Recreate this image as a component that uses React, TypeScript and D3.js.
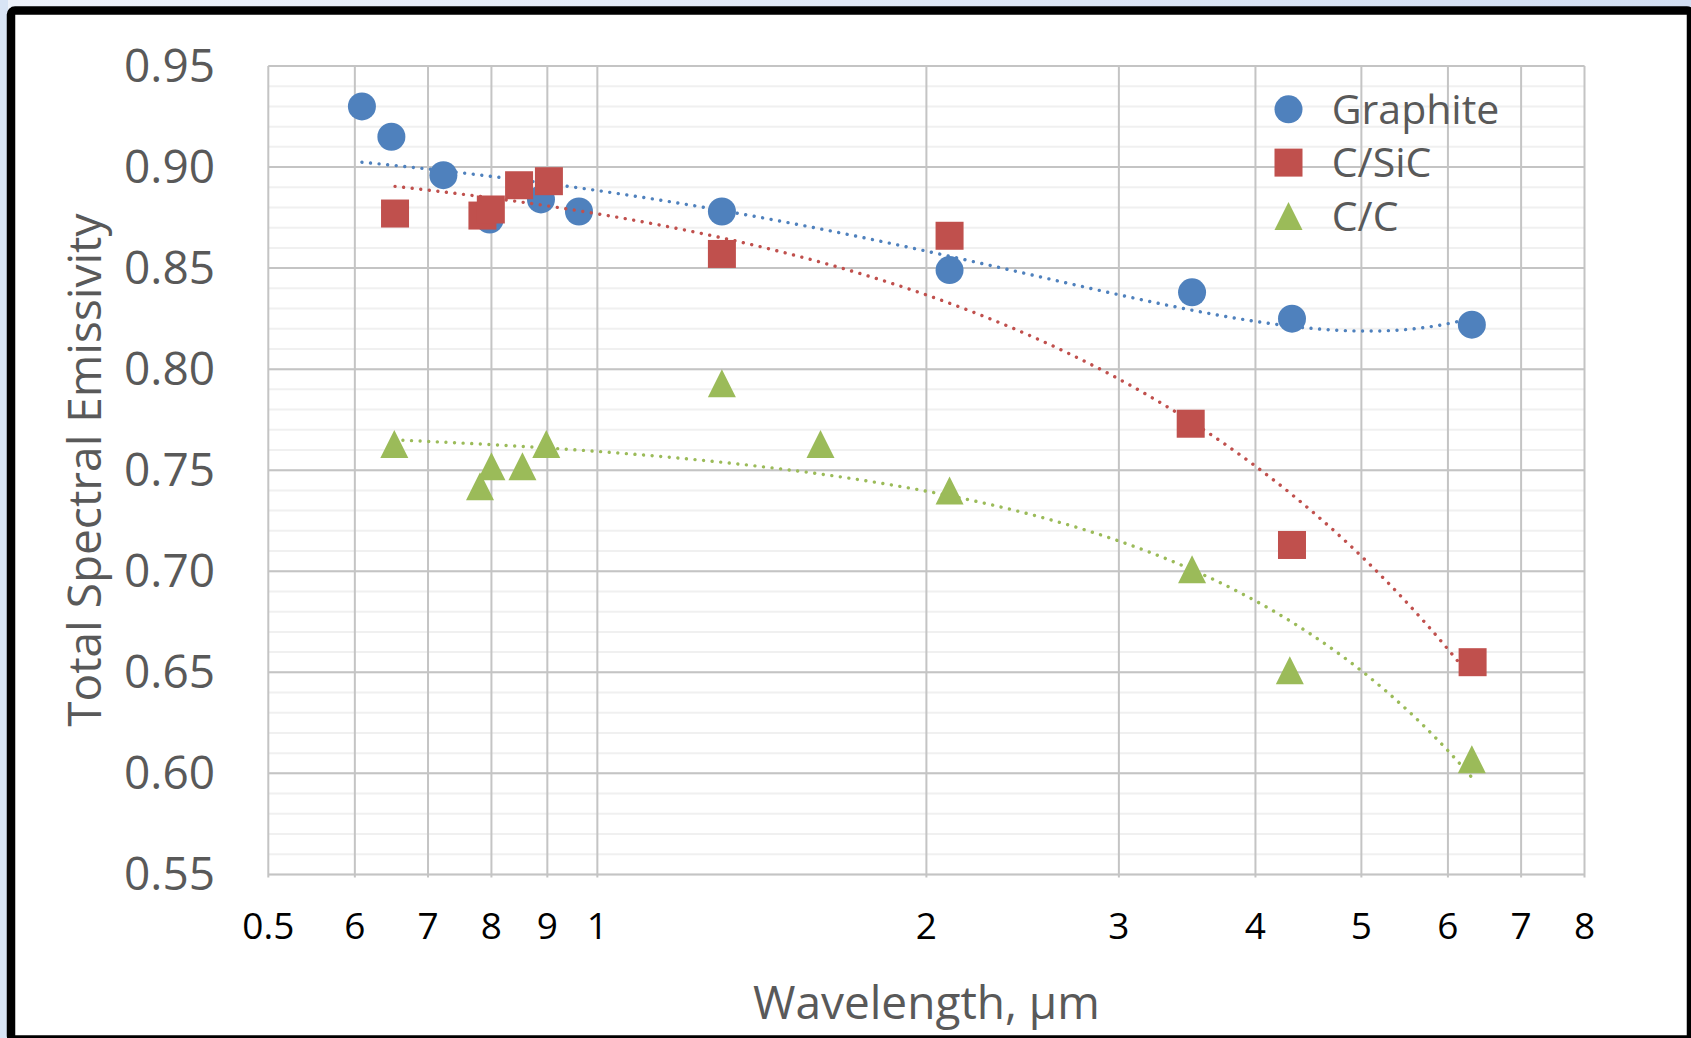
import React from "react";
import * as d3 from "d3";

const W = 1691;
const H = 1038;

// ---- data ----
const graphiteX = [0.609, 0.648, 0.723, 0.797, 0.888, 0.962, 1.3, 2.1, 3.5, 4.32, 6.31];
const graphiteY = [0.93, 0.915, 0.896, 0.874, 0.884, 0.878, 0.878, 0.849, 0.838, 0.825, 0.822];
const csicX = [0.653, 0.785, 0.799, 0.848, 0.903, 1.3, 2.1, 3.49, 4.32, 6.32];
const csicY = [0.877, 0.876, 0.879, 0.891, 0.893, 0.857, 0.866, 0.773, 0.713, 0.655];
const ccX = [0.652, 0.781, 0.8, 0.854, 0.898, 1.3, 1.6, 2.1, 3.5, 4.3, 6.31];
const ccY = [0.763, 0.742, 0.752, 0.752, 0.763, 0.793, 0.763, 0.74, 0.701, 0.651, 0.607];

const seriesNames = ["Graphite", "C/SiC", "C/C"];
const seriesColors = ["#4F81BD", "#C0504D", "#9BBB59"];
const seriesShapes = ["circle", "square", "triangle"];

const xTickValues = [0.5, 0.6, 0.7, 0.8, 0.9, 1, 2, 3, 4, 5, 6, 7, 8];
const xTickLabels = ["0.5", "6", "7", "8", "9", "1", "2", "3", "4", "5", "6", "7", "8"];
const yTickValues = [0.55, 0.6, 0.65, 0.7, 0.75, 0.8, 0.85, 0.9, 0.95];
const yMinorValues = d3.range(55, 96).map((d) => d / 100);

const xTitle = "Wavelength, μm";
const yTitle = "Total Spectral Emissivity";

// ---- layout ----
const plotL = 268.3;
const plotR = 1584.5;
const plotT = 66;
const plotB = 874.4;
const FONT = "'Open Sans', sans-serif";

const x = d3.scaleLog().domain([0.5, 8]).range([plotL, plotR]);
const y = d3.scaleLinear().domain([0.55, 0.95]).range([plotB, plotT]);

// least-squares quadratic (Excel polynomial trendline, order 2)
function quadFit(xs: number[], ys: number[]) {
  const n = xs.length;
  let s0 = n, s1 = 0, s2 = 0, s3 = 0, s4 = 0, t0 = 0, t1 = 0, t2 = 0;
  for (let i = 0; i < n; i++) {
    const a = xs[i], b = ys[i];
    s1 += a; s2 += a * a; s3 += a * a * a; s4 += a * a * a * a;
    t0 += b; t1 += a * b; t2 += a * a * b;
  }
  const M = [
    [s0, s1, s2, t0],
    [s1, s2, s3, t1],
    [s2, s3, s4, t2],
  ];
  for (let c = 0; c < 3; c++) {
    let p = c;
    for (let r = c + 1; r < 3; r++) if (Math.abs(M[r][c]) > Math.abs(M[p][c])) p = r;
    [M[c], M[p]] = [M[p], M[c]];
    for (let r = 0; r < 3; r++) {
      if (r === c) continue;
      const f = M[r][c] / M[c][c];
      for (let k = c; k < 4; k++) M[r][k] -= f * M[c][k];
    }
  }
  const c0 = M[0][3] / M[0][0], c1 = M[1][3] / M[1][1], c2 = M[2][3] / M[2][2];
  return (v: number) => c0 + c1 * v + c2 * v * v;
}

const seriesData = [
  { xs: graphiteX, ys: graphiteY },
  { xs: csicX, ys: csicY },
  { xs: ccX, ys: ccY },
];

const R = 14;

function Marker({ shape, cx, cy, color }: { shape: string; cx: number; cy: number; color: string }) {
  if (shape === "circle") return <circle cx={cx} cy={cy} r={R} fill={color} />;
  if (shape === "square") return <rect x={cx - R} y={cy - R} width={2 * R} height={2 * R} fill={color} />;
  return (
    <path
      d={`M${cx},${cy - R}L${cx + R},${cy + R}L${cx - R},${cy + R}Z`}
      fill={color}
    />
  );
}

export default function App() {
  const line = d3
    .line<[number, number]>()
    .x((d) => x(d[0]))
    .y((d) => y(d[1]))
    .curve(d3.curveLinear);

  return (
    <div style={{ position: "absolute", left: 0, top: 0, width: W, height: H }}>
      <svg width={W} height={H} style={{ display: "block" }}>
        <defs>
          <linearGradient id="bg" x1="0" y1="0" x2="1" y2="0">
            <stop offset="0" stopColor="#EEF2FA" />
            <stop offset="1" stopColor="#D2DEF2" />
          </linearGradient>
        </defs>
        <rect x={0} y={0} width={W} height={H} fill="url(#bg)" />
        <rect x={0} y={0} width={8} height={H} fill="#D8E4F5" />
        {/* black frame */}
        <rect x={11} y={10.5} width={1680} height={1029} rx={4} fill="#FFFFFF" stroke="#000" strokeWidth={8.5} />

        {/* minor gridlines */}
        {yMinorValues.map((v) => (
          <line key={"m" + v} x1={plotL} x2={plotR} y1={y(v)} y2={y(v)} stroke="#F0F0F0" strokeWidth={2} />
        ))}
        {/* vertical gridlines */}
        {xTickValues.map((v) => (
          <line key={"v" + v} x1={x(v)} x2={x(v)} y1={plotT} y2={plotB + 3} stroke="#C4C4C4" strokeWidth={2} />
        ))}
        {/* major horizontal gridlines */}
        {yTickValues.map((v) => (
          <line key={"h" + v} x1={plotL} x2={plotR} y1={y(v)} y2={y(v)} stroke="#C4C4C4" strokeWidth={2} />
        ))}

        {/* y tick labels */}
        {yTickValues.map((v) => (
          <text key={"yl" + v} x={215} y={y(v) + 16} textAnchor="end" fontFamily={FONT} fontSize={46} fill="#595959">
            {v.toFixed(2)}
          </text>
        ))}
        {/* x tick labels */}
        {xTickValues.map((v, i) => (
          <text key={"xl" + i} x={x(v)} y={939} textAnchor="middle" fontFamily={FONT} fontSize={37} fill="#000">
            {xTickLabels[i]}
          </text>
        ))}

        {/* axis titles */}
        <text x={(plotL + plotR) / 2} y={1019} textAnchor="middle" fontFamily={FONT} fontSize={46} fill="#595959">
          {xTitle}
        </text>
        <text
          transform={`translate(101,${(plotT + plotB) / 2}) rotate(-90)`}
          textAnchor="middle"
          fontFamily={FONT}
          fontSize={46}
          fill="#595959"
        >
          {yTitle}
        </text>

        {/* series: trendline then markers */}
        {seriesData.map((s, si) => {
          const f = quadFit(s.xs, s.ys);
          const lo = d3.min(s.xs) as number;
          const hi = d3.max(s.xs) as number;
          const pts: [number, number][] = d3
            .range(0, 201)
            .map((k) => {
              const xv = lo * Math.pow(hi / lo, k / 200);
              return [xv, f(xv)] as [number, number];
            });
          return (
            <g key={"s" + si}>
              <path
                d={line(pts) || ""}
                fill="none"
                stroke={seriesColors[si]}
                strokeWidth={3.4}
                strokeLinecap="round"
                strokeDasharray="0.01 8.6"
              />
              {s.xs.map((xv, k) => (
                <Marker key={k} shape={seriesShapes[si]} cx={x(xv)} cy={y(s.ys[k])} color={seriesColors[si]} />
              ))}
            </g>
          );
        })}

        {/* legend */}
        {seriesNames.map((name, i) => {
          const cy = 109.3 + i * 53.3;
          return (
            <g key={"lg" + i}>
              <Marker shape={seriesShapes[i]} cx={1288.5} cy={cy} color={seriesColors[i]} />
              <text x={1331.8} y={cy + 14.7} fontFamily={FONT} fontSize={41} fill="#595959">
                {name}
              </text>
            </g>
          );
        })}
      </svg>
    </div>
  );
}
